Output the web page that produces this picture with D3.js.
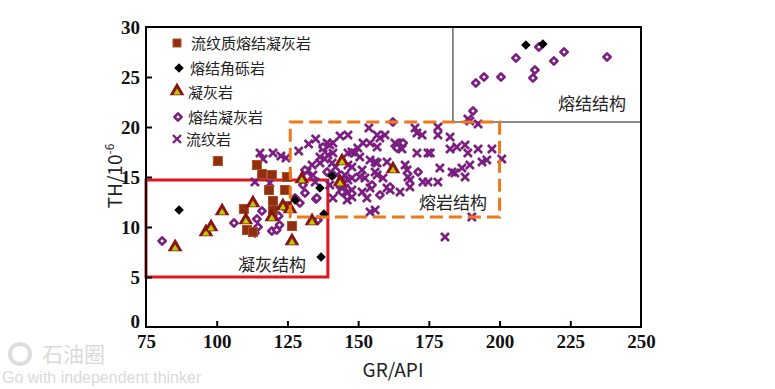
<!DOCTYPE html>
<html>
<head>
<meta charset="utf-8">
<script src="https://cdn.jsdelivr.net/npm/d3@7"></script>
<style>
  body { margin: 0; background: #fff; }
  .cjk { font-family: "Noto Sans CJK SC", "Liberation Sans", sans-serif; }
  .num { font-family: "Liberation Serif", "Times New Roman", Times, "DejaVu Serif", serif; font-weight: bold; }
</style>
</head>
<body>
<div id="chart"></div>
<script>
// GR vs TH cross plot, one array per rock type: [GR/API, TH/10^-6]

let rhyoliticWeldedTuff = [
  [100.4, 16.6], [114.2, 16.2], [116.0, 15.3], [119.5, 15.2], [118.5, 13.7], [119.9, 12.6],
  [109.6, 11.8], [119.9, 11.7], [110.7, 9.7], [112.8, 9.5], [124.8, 15.0], [124.1, 13.7],
  [124.8, 12.1], [126.6, 10.1]
]

let weldedBreccia = [
  [86.7, 11.7], [136.5, 13.9], [127.7, 12.7], [137.9, 11.3], [140.7, 15.1], [136.9, 7.0],
  [209.3, 28.2], [215.3, 28.3]
]

let tuff = [
  [85.3, 7.9], [96.2, 9.4], [98.0, 9.9], [101.9, 11.5], [112.8, 12.3], [110.3, 10.6],
  [119.5, 10.9], [123.4, 12.0], [125.9, 11.7], [126.6, 8.5], [133.7, 10.5], [130.1, 14.7],
  [144.3, 16.5], [143.6, 14.4], [162.3, 15.7]
]

let weldedTuff = [
  [80.7, 8.6], [106.1, 10.4], [116.0, 11.6], [114.2, 10.8], [114.6, 10.0], [113.5, 9.4],
  [119.5, 9.6], [121.9, 11.1], [122.2, 10.2], [121.2, 9.7], [124.8, 11.9], [129.4, 12.4],
  [131.2, 13.4], [135.1, 12.8], [135.8, 10.7], [127.7, 12.9], [130.5, 14.2],
  [162.3, 20.5], [137.6, 18.0], [131.2, 15.7], [139.0, 15.5], [135.4, 12.9], [143.6, 14.2],
  [154.9, 14.2], [161.3, 14.0], [171.2, 15.5], [144.3, 13.5], [157.7, 13.2], [164.8, 18.4],
  [165.9, 18.4], [163.7, 17.9],
  [205.8, 26.9], [213.9, 28.0], [194.5, 25.0], [191.6, 24.4], [200.5, 25.0], [212.5, 25.7],
  [211.8, 24.9], [219.2, 26.6], [222.8, 27.5], [238.0, 27.0], [190.6, 21.6]
]

let rhyolite = [
  [115.3, 17.4], [116.4, 16.8], [119.9, 17.4], [122.7, 17.1], [113.5, 14.5], [118.8, 14.4], [124.5, 16.9],
  [143.6, 19.1], [146.4, 19.2], [153.8, 19.9], [156.7, 19.2], [157.7, 18.9], [159.5, 19.2],
  [170.1, 19.9], [170.8, 19.4], [172.6, 19.2], [178.2, 20.0], [178.2, 19.2], [182.5, 19.0],
  [139.0, 18.4], [140.0, 18.2], [137.6, 17.9], [141.1, 18.4], [149.9, 17.9], [151.7, 18.4],
  [154.2, 18.4], [156.7, 18.0], [163.0, 18.4], [164.0, 18.1], [165.5, 17.8], [170.8, 17.4],
  [174.7, 17.4], [175.5, 17.4], [182.5, 17.8], [184.9, 18.0], [187.8, 18.2], [188.8, 17.4],
  [192.4, 17.8], [197.3, 17.8], [193.8, 16.5], [195.5, 16.7], [189.5, 16.2], [200.8, 16.8],
  [136.5, 17.0], [139.3, 17.2], [141.1, 17.4], [146.4, 17.4], [147.8, 17.5], [148.9, 17.4],
  [150.6, 17.0], [154.2, 16.7], [156.0, 16.5], [156.7, 16.4], [160.2, 16.5],
  [133.7, 16.2], [136.5, 16.4], [140.8, 16.4], [146.4, 16.2], [147.8, 16.0], [151.4, 15.7],
  [156.0, 15.5], [166.6, 16.2], [167.3, 15.7], [178.9, 15.9], [183.2, 15.5], [184.2, 15.4],
  [186.7, 15.9], [187.8, 15.0],
  [134.0, 15.2], [131.9, 15.5], [142.5, 15.2], [144.3, 14.9], [145.3, 15.2], [146.4, 14.7],
  [147.8, 14.9], [150.6, 15.0], [152.4, 14.9], [156.7, 15.2], [158.8, 14.9], [167.6, 15.0],
  [168.3, 14.7], [168.3, 14.0], [172.9, 14.5], [174.7, 14.5], [178.2, 14.5],
  [140.0, 14.2], [143.6, 13.7], [145.3, 13.9], [146.1, 13.4], [147.8, 13.7], [151.4, 13.5],
  [154.2, 13.9], [160.2, 13.9], [161.3, 13.7], [164.8, 13.5],
  [141.1, 12.9], [146.1, 12.7], [147.8, 13.0], [153.1, 12.9], [154.2, 11.5], [156.0, 11.7],
  [190.2, 11.0], [180.7, 9.0], [188.8, 20.8], [192.4, 20.3], [189.5, 20.6],
  [129.0, 17.6], [132.5, 18.3], [135.0, 18.8], [138.2, 16.8], [142.0, 16.0], [134.8, 14.5]
]

let xTicks = [75, 100, 125, 150, 175, 200, 225, 250]
let yTicks = [0, 5, 10, 15, 20, 25, 30]

let legendNames = ["流纹质熔结凝灰岩", "熔结角砾岩", "凝灰岩", "熔结凝灰岩", "流纹岩"]

// region boxes [x0, x1, y0, y1] in data units
let tuffBox = [75, 139.3, 5, 14.7]
let lavaBox = [126, 200, 11, 20.5]
let weldedSplit = [183.5, 20.5]

let width = 775
let height = 389

let svg = d3.select("#chart")
    .append("svg")
    .attr("width", width)
    .attr("height", height)
    .attr("class", "cjk")

svg.append("rect").attr("width", width).attr("height", height).attr("fill", "#fff")

let x = d3.scaleLinear().domain([75, 250]).range([146, 641])
let y = d3.scaleLinear().domain([0, 30]).range([327, 27])

// watermark bottom left
let wm = svg.append("g").attr("fill", "#dadada")
wm.append("circle").attr("cx", 20).attr("cy", 354).attr("r", 10)
    .attr("fill", "none").attr("stroke", "#dedede").attr("stroke-width", 4)
wm.append("text").attr("x", 42).attr("y", 362).style("font-size", "21px").text("石油圈")
wm.append("text").attr("x", 2).attr("y", 383).style("font-size", "16px")
    .style("font-family", "Liberation Sans, sans-serif").text("Go with independent thinker")

// classification boxes
svg.append("rect")
    .attr("x", x(tuffBox[0])).attr("y", y(tuffBox[3]))
    .attr("width", x(tuffBox[1]) - x(tuffBox[0]))
    .attr("height", y(tuffBox[2]) - y(tuffBox[3]))
    .attr("fill", "none").attr("stroke", "#e3141c").attr("stroke-width", 3)

svg.append("path")
    .attr("d", "M" + x(weldedSplit[0]) + "," + y(30) + "V" + y(weldedSplit[1]) + "H" + x(250))
    .attr("fill", "none").attr("stroke", "#666").attr("stroke-width", 1.5)

// frame and ticks
svg.append("rect")
    .attr("x", x(75)).attr("y", y(30))
    .attr("width", x(250) - x(75)).attr("height", y(0) - y(30))
    .attr("fill", "none").attr("stroke", "#000").attr("stroke-width", 2)

let xAxis = svg.append("g")
    .attr("transform", "translate(0," + y(0) + ")")
    .call(d3.axisBottom(x).tickValues(xTicks).tickSizeInner(-6).tickSizeOuter(0).tickPadding(10))
let yAxis = svg.append("g")
    .attr("transform", "translate(" + x(75) + ",0)")
    .call(d3.axisLeft(y).tickValues(yTicks).tickSizeInner(-6).tickSizeOuter(0).tickPadding(6))

// d3 puts font attributes on the axis groups; drop them so the class wins
xAxis.attr("font-family", null).attr("font-size", null)
yAxis.attr("font-family", null).attr("font-size", null)

svg.selectAll(".domain").remove()
svg.selectAll(".tick line").attr("stroke", "#000").attr("stroke-width", 2)
svg.selectAll(".tick text")
    .attr("class", "num")
    .attr("fill", "#111")
    .style("font-size", "19px")
xAxis.selectAll(".tick text").attr("dy", "0.6em")
yAxis.selectAll(".tick text").attr("dy", "0.35em")
yAxis.selectAll(".tick").filter(d => d == 0).select("text").attr("dy", "0.05em")
xAxis.selectAll(".tick").filter(d => d == 75 || d == 250).select("line").remove()
yAxis.selectAll(".tick").filter(d => d == 0 || d == 30).select("line").remove()

svg.append("text")
    .attr("x", 393).attr("y", 377)
    .attr("text-anchor", "middle")
    .style("font-size", "19px").attr("fill", "#222")
    .text("GR/API")

let yt = svg.append("text")
    .attr("transform", "translate(122,176) rotate(-90)")
    .attr("text-anchor", "middle")
    .style("font-size", "19px").attr("fill", "#222")
yt.append("tspan").text("TH/10")
yt.append("tspan").attr("dy", -8).style("font-size", "12px").text("-6")

// markers
let purple = "#7a1f80"
let timesPath = d3.symbol().type(d3.symbolTimes).size(44)

svg.append("g").selectAll("path")
    .data(rhyolite)
    .enter()
    .append("path")
    .attr("d", timesPath)
    .attr("transform", d => "translate(" + x(d[0]) + "," + y(d[1]) + ")")
    .attr("fill", "none").attr("stroke", purple).attr("stroke-width", 2.6)

// hollow diamonds for welded tuff
let hollow = d3.symbol().type(d3.symbolSquare).size(26)
svg.append("g").selectAll("path")
    .data(weldedTuff)
    .enter()
    .append("path")
    .attr("d", hollow)
    .attr("transform", d => "translate(" + x(d[0]) + "," + y(d[1]) + ") rotate(45)")
    .attr("fill", "#fff").attr("stroke", purple).attr("stroke-width", 2.6)
    .attr("stroke-linejoin", "round")

svg.append("g").selectAll("rect")
    .data(rhyoliticWeldedTuff)
    .enter()
    .append("rect")
    .attr("x", d => x(d[0]) - 4.5).attr("y", d => y(d[1]) - 4.5)
    .attr("width", 9).attr("height", 9)
    .attr("fill", "#8f2e12").attr("stroke", "#b0521e").attr("stroke-width", 1)

let triOuter = d3.symbol().type(d3.symbolTriangle).size(95)
let triInner = d3.symbol().type(d3.symbolTriangle).size(22)
let tri = svg.append("g").selectAll("g")
    .data(tuff)
    .enter()
    .append("g")
    .attr("transform", d => "translate(" + x(d[0]) + "," + (y(d[1]) - 1) + ")")
tri.append("path").attr("d", triOuter).attr("fill", "#8a1414")
tri.append("path").attr("d", triInner).attr("fill", "#b8d000").attr("transform", "translate(0,1.5)")

let diamond = d3.symbol().type(d3.symbolSquare).size(46)
svg.append("g").selectAll("path")
    .data(weldedBreccia)
    .enter()
    .append("path")
    .attr("d", diamond)
    .attr("transform", d => "translate(" + x(d[0]) + "," + y(d[1]) + ") rotate(45)")
    .attr("fill", "#000")

// lava box drawn over the points, like the original
svg.append("rect")
    .attr("x", x(lavaBox[0])).attr("y", y(lavaBox[3]))
    .attr("width", x(lavaBox[1]) - x(lavaBox[0]))
    .attr("height", y(lavaBox[2]) - y(lavaBox[3]))
    .attr("fill", "none").attr("stroke", "#f07818").attr("stroke-width", 3)
    .attr("stroke-dasharray", "13,6")

// region labels
svg.append("text").attr("x", 272).attr("y", 271).attr("text-anchor", "middle")
    .style("font-size", "17px").attr("fill", "#222").text("凝灰结构")
svg.append("text").attr("x", 453).attr("y", 209).attr("text-anchor", "middle")
    .style("font-size", "17px").attr("fill", "#222").text("熔岩结构")
svg.append("text").attr("x", 592).attr("y", 110).attr("text-anchor", "middle")
    .style("font-size", "17px").attr("fill", "#222").text("熔结结构")

// legend
let legendY = [43, 68, 92, 117, 139]
let lg = svg.append("g")
lg.append("rect").attr("x", 173).attr("y", legendY[0] - 4).attr("width", 8).attr("height", 8)
    .attr("fill", "#8f2e12").attr("stroke", "#b0521e")
lg.append("path").attr("d", diamond).attr("transform", "translate(179," + legendY[1] + ") rotate(45)")
lg.append("g").attr("transform", "translate(177," + (legendY[2] - 1) + ")")
    .call(g => {
        g.append("path").attr("d", triOuter).attr("fill", "#8a1414")
        g.append("path").attr("d", triInner).attr("fill", "#b8d000").attr("transform", "translate(0,1.5)")
    })
lg.append("path").attr("d", hollow).attr("transform", "translate(178," + legendY[3] + ") rotate(45)")
    .attr("fill", "#fff").attr("stroke", purple).attr("stroke-width", 2.5).attr("stroke-linejoin", "round")
lg.append("path").attr("d", timesPath).attr("transform", "translate(177," + legendY[4] + ")")
    .attr("fill", "none").attr("stroke", purple).attr("stroke-width", 2.4)

let legendX = [191, 190, 188, 188, 186]
lg.selectAll("text.name")
    .data(legendNames)
    .enter()
    .append("text")
    .attr("x", (d, i) => legendX[i])
    .attr("y", (d, i) => legendY[i] + 6)
    .style("font-size", "15px")
    .attr("fill", "#222")
    .text(d => d)
</script>
</body>
</html>
